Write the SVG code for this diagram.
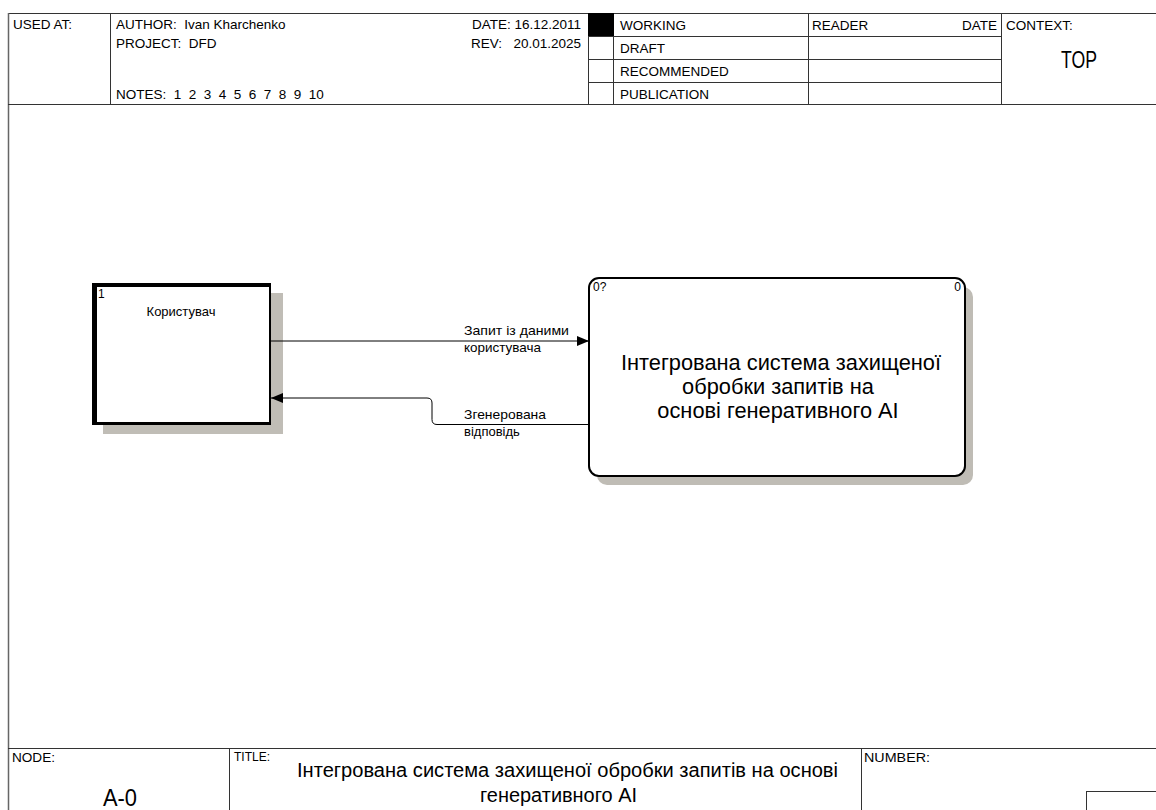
<svg xmlns="http://www.w3.org/2000/svg" width="1156" height="810" viewBox="0 0 1156 810">
<defs>
<style>
text{font-family:"Liberation Sans",Arial,sans-serif;fill:#000}
.t12{font-size:13.5px}
.t11{font-size:12px}
.lab{font-size:13px}
.big{font-size:20px}
.fl{stroke:#333;stroke-width:1;fill:none}
.conn{stroke:#000;stroke-width:1;fill:none}
</style>
<marker id="arr" markerWidth="12" markerHeight="10" refX="12" refY="5" orient="auto" markerUnits="userSpaceOnUse">
<path d="M0,0 L12,5 L0,10 Z" fill="#000"/>
</marker>
</defs>
<rect width="1156" height="810" fill="#fff"/>
<g id="frame">
<line class="fl" x1="8" y1="13.5" x2="1156" y2="13.5"/>
<line x1="8.5" y1="13" x2="8.5" y2="810" stroke="#666" stroke-width="1.5"/>
<line class="fl" x1="8" y1="104.5" x2="1156" y2="104.5"/>
<line class="fl" x1="110.5" y1="13" x2="110.5" y2="104"/>
<line class="fl" x1="588.5" y1="13" x2="588.5" y2="104"/>
<line class="fl" x1="613.5" y1="13" x2="613.5" y2="104"/>
<line class="fl" x1="808.5" y1="13" x2="808.5" y2="104"/>
<line class="fl" x1="1001.5" y1="13" x2="1001.5" y2="104"/>
<line class="fl" x1="588" y1="36.5" x2="1001" y2="36.5"/>
<line class="fl" x1="588" y1="59.5" x2="1001" y2="59.5"/>
<line class="fl" x1="588" y1="82.5" x2="1001" y2="82.5"/>
<rect x="588" y="13" width="26" height="23" fill="#000"/>
<text class="t12" x="13" y="29">USED AT:</text>
<text class="t12" x="116" y="29" xml:space="preserve">AUTHOR:  Ivan Kharchenko</text>
<text class="t12" x="116" y="48" xml:space="preserve">PROJECT:  DFD</text>
<text class="t12" x="116" y="99" xml:space="preserve">NOTES:  1  2  3  4  5  6  7  8  9  10</text>
<text class="t12" x="581" y="29" text-anchor="end">DATE: 16.12.2011</text>
<text class="t12" x="471" y="48">REV:</text>
<text class="t12" x="581" y="48" text-anchor="end">20.01.2025</text>
<text class="t12" x="620" y="30">WORKING</text>
<text class="t12" x="620" y="53">DRAFT</text>
<text class="t12" x="620" y="76">RECOMMENDED</text>
<text class="t12" x="620" y="99">PUBLICATION</text>
<text class="t12" x="812" y="30">READER</text>
<text class="t12" x="997" y="30" text-anchor="end">DATE</text>
<text class="t12" x="1006" y="30">CONTEXT:</text>
<text x="1079" y="68" font-size="23" text-anchor="middle" textLength="36" lengthAdjust="spacingAndGlyphs">TOP</text>
<line class="fl" x1="8" y1="748.5" x2="1156" y2="748.5"/>
<line class="fl" x1="229.5" y1="748" x2="229.5" y2="810"/>
<line class="fl" x1="861.5" y1="748" x2="861.5" y2="810"/>
<rect class="fl" x="1086.5" y="791.5" width="80" height="30"/>
<text class="t11" x="12" y="762" textLength="43" lengthAdjust="spacingAndGlyphs">NODE:</text>
<text x="120" y="806" font-size="23" text-anchor="middle" textLength="34" lengthAdjust="spacingAndGlyphs">A-0</text>
<text class="t11" x="234" y="761">TITLE:</text>
<text class="big" x="297" y="777" textLength="541" lengthAdjust="spacingAndGlyphs">Інтегрована система захищеної обробки запитів на основі</text>
<text class="big" x="480" y="802" textLength="157" lengthAdjust="spacingAndGlyphs">генеративного AI</text>
<text class="t11" x="864" y="762" textLength="66" lengthAdjust="spacingAndGlyphs">NUMBER:</text>
</g>
<g id="node1">
<rect x="103" y="293" width="180" height="141" fill="#c0bdb6"/>
<rect x="92" y="283" width="179" height="142" fill="#fff"/>
<rect x="92" y="283" width="179" height="4" fill="#000"/>
<rect x="92" y="283" width="5" height="142" fill="#000"/>
<rect x="269" y="283" width="2" height="142" fill="#000"/>
<rect x="92" y="422" width="179" height="3" fill="#000"/>
<text class="t11" x="98" y="298">1</text>
<text class="lab" x="181" y="316" text-anchor="middle">Користувач</text>
</g>
<g id="node0">
<rect x="597" y="287" width="376" height="198" rx="10" fill="#bfbcb5"/>
<rect x="589" y="278" width="376" height="198" rx="10" fill="#fff" stroke="#000" stroke-width="2"/>
<text class="t11" x="593" y="291">0?</text>
<text class="t11" x="961" y="291" text-anchor="end">0</text>
<text x="781" y="370" font-size="21.8" text-anchor="middle">Інтегрована система захищеної</text>
<text x="778" y="394" font-size="21.8" text-anchor="middle">обробки запитів на</text>
<text x="778" y="418" font-size="21.8" text-anchor="middle">основі генеративного AI</text>
</g>
<g id="connectors">
<path class="conn" d="M271,341 H589" marker-end="url(#arr)"/>
<path class="conn" d="M589,424.5 H437 Q432,424.5 432,419.5 V403 Q432,398 427,398 H271" marker-end="url(#arr)"/>
<text class="lab" x="464" y="335" textLength="105" lengthAdjust="spacingAndGlyphs">Запит із даними</text>
<text class="lab" x="464" y="352" textLength="77" lengthAdjust="spacingAndGlyphs">користувача</text>
<text class="lab" x="464" y="419" textLength="82" lengthAdjust="spacingAndGlyphs">Згенерована</text>
<text class="lab" x="464" y="436">відповідь</text>
</g>
</svg>
